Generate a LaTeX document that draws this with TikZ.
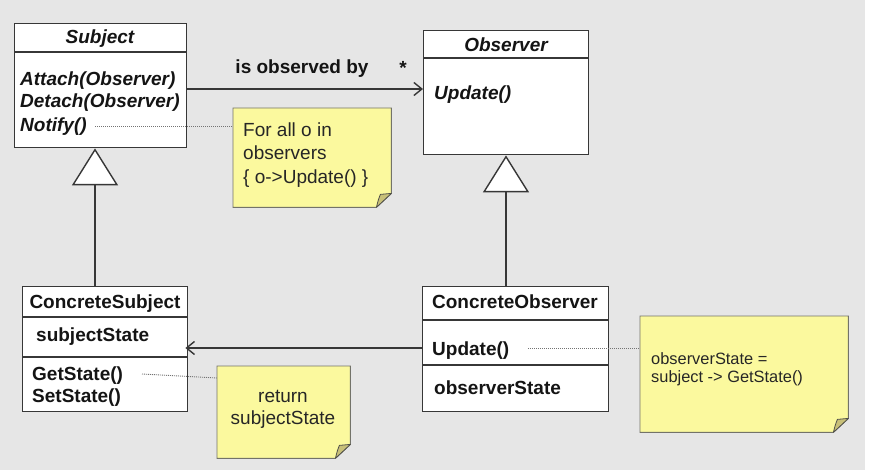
\documentclass[tikz,border=0pt]{standalone}
\usepackage{fontspec}
\setmainfont{Liberation Sans}
\usetikzlibrary{arrows.meta}
\definecolor{bg}{RGB}{230,230,230}
\definecolor{notefill}{RGB}{251,249,158}
\definecolor{noteedge}{RGB}{115,115,105}
\definecolor{boxedge}{RGB}{55,55,55}
\definecolor{foldfill}{RGB}{200,192,120}
\newcommand{\drawnote}[1]{%
  \draw[notepath] (#1.north west) -- (#1.north east) -- ([yshift=14pt]#1.south east)
     -- ([xshift=-15pt]#1.south east) -- (#1.south west) -- cycle;
  \draw[fold] ([yshift=14pt]#1.south east) -- ([xshift=-11pt,yshift=13pt]#1.south east)
     .. controls ([xshift=-13pt,yshift=8pt]#1.south east) .. ([xshift=-15pt]#1.south east) -- cycle;}
\begin{document}
\begin{tikzpicture}[x=1pt,y=-1pt,
  umlbox/.style={draw=boxedge, fill=white, line width=1.4pt, rectangle, inner sep=0pt, anchor=north west},
  notebox/.style={rectangle, inner sep=0pt, anchor=north west},
  notepath/.style={draw=noteedge, fill=notefill, line width=0.9pt},
  fold/.style={draw=noteedge!70!black, fill=foldfill, line width=0.8pt, line join=round},
  sep/.style={draw=boxedge, line width=1.4pt},
  txt/.style={inner sep=0pt, text=black!92, font=\fontsize{19}{23}\selectfont\bfseries},
  itxt/.style={inner sep=0pt, text=black!92, font=\fontsize{19}{23}\selectfont\bfseries\itshape},
  ntxt/.style={inner sep=0pt, text=black!85, font=\fontsize{19}{23}\selectfont},
  stxt/.style={inner sep=0pt, text=black!85, font=\fontsize{16.4}{19}\selectfont},
  assoc/.style={draw=boxedge, line width=1.4pt, -{Straight Barb[length=8pt,width=13pt,line width=1.4pt]}},
  inh/.style={draw=boxedge, line width=1.4pt, -{Triangle[fill=white,length=37pt,width=46pt,line width=1.4pt]}},
  dots/.style={draw=black!55, line width=0.9pt, dash pattern=on 1pt off 1pt},
]
\useasboundingbox (0,0) rectangle (876,476);
\fill[white] (0,0) rectangle (876,476);
\fill[bg] (0,0) rectangle (865,470);

% class boxes
\node[umlbox, minimum width=172pt, minimum height=124pt] (subj) at (14,23) {};
\draw[sep] (subj.west |- 0,52) -- (subj.east |- 0,52);
\node[umlbox, minimum width=165pt, minimum height=124pt] (obs) at (423,30) {};
\draw[sep] (obs.west |- 0,58) -- (obs.east |- 0,58);
\node[umlbox, minimum width=165pt, minimum height=125pt] (csub) at (22,286) {};
\draw[sep] (csub.west |- 0,317) -- (csub.east |- 0,317);
\draw[sep] (csub.west |- 0,357) -- (csub.east |- 0,357);
\node[umlbox, minimum width=186pt, minimum height=125pt] (cobs) at (422,286) {};
\draw[sep] (cobs.west |- 0,320) -- (cobs.east |- 0,320);
\draw[sep] (cobs.west |- 0,365) -- (cobs.east |- 0,365);

% class texts
\node[itxt, anchor=base] (tsubj) at (100,44) {Subject};
\node[itxt, anchor=base west] (tatt) at (20,86) {Attach(Observer)};
\node[itxt, anchor=base west] (tdet) at (20,108) {Detach(Observer)};
\node[itxt, anchor=base west] (tnot) at (20,132) {Notify()};
\node[itxt, anchor=base] (tobs) at (506,52) {Observer};
\node[itxt, anchor=base west] (tupd) at (434,100) {Update()};
\node[txt, anchor=base] (tcs) at (105,308) {ConcreteSubject};
\node[txt, anchor=base west] (tss) at (36,341) {subjectState};
\node[txt, anchor=base west] (tgs) at (32,380) {GetState()};
\node[txt, anchor=base west] (tsts) at (32,402) {SetState()};
\node[txt, anchor=base] (tco) at (515,308) {ConcreteObserver};
\node[txt, anchor=base west] (tcu) at (432,355) {Update()};
\node[txt, anchor=base west] (tos) at (434,394) {observerState};

% association labels
\node[txt, anchor=base] (tlab) at (302,74) {is observed by};
\node[txt, anchor=base] (tstar) at (403,75) {*};

% notes
\node[notebox, minimum width=158pt, minimum height=99pt] (note1) at (233,108) {};
\node[notebox, minimum width=133pt, minimum height=92pt] (note2) at (217,366) {};
\node[notebox, minimum width=208pt, minimum height=116pt] (note3) at (640,316) {};
\drawnote{note1}
\drawnote{note2}
\drawnote{note3}
\node[ntxt, anchor=base west] (n1a) at (243,137) {For all o in};
\node[ntxt, anchor=base west] (n1b) at (243,160) {observers};
\node[ntxt, anchor=base west] (n1c) at (243,183) {\{ o->Update() \}};
\node[ntxt, anchor=base] (n2a) at (283,402) {return};
\node[ntxt, anchor=base] (n2b) at (283,424) {subjectState};
\node[stxt, anchor=base west] (n3a) at (651,364) {observerState =};
\node[stxt, anchor=base west] (n3b) at (651,382) {subject -> GetState()};

% connectors
\draw[assoc] (subj.east |- 0,89) -- (obs.west |- 0,89);
\draw[assoc] (cobs.west |- 0,348) -- ([xshift=-3pt]csub.east |- 0,348);
\draw[inh] (csub.north -| 95,0) -- (subj.south -| 95,0);
\draw[inh] (cobs.north -| 506,0) -- (obs.south -| 506,0);

% note anchors
\coordinate (d1) at (95,126);
\draw[dots] (d1) -- (note1.west |- d1);
\coordinate (d2) at (142,374);
\coordinate (d2e) at (217,378);
\draw[dots] (d2) -- (d2e);
\coordinate (d3) at (528,348);
\draw[dots] (d3) -- (note3.west |- d3);
\end{tikzpicture}
\end{document}
